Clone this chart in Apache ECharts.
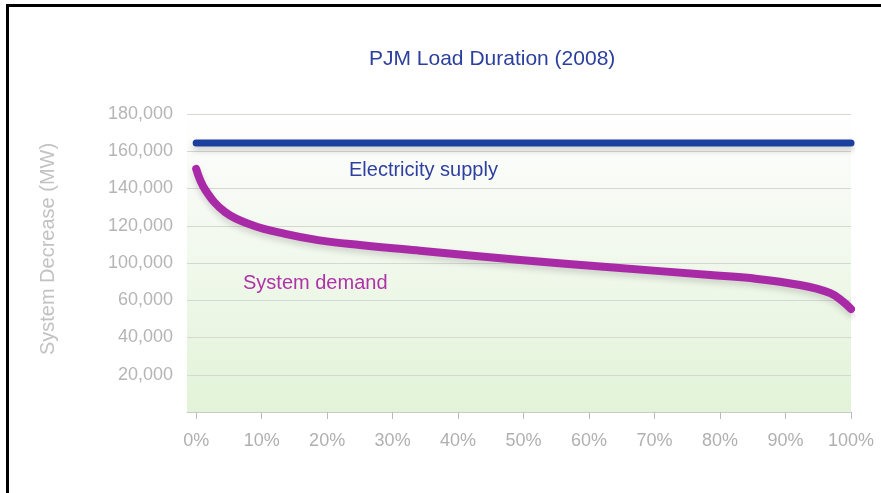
<!DOCTYPE html>
<html>
<head>
<meta charset="utf-8">
<title>PJM Load Duration (2008)</title>
<script src="https://cdn.jsdelivr.net/npm/echarts@6/dist/echarts.min.js"></script>
<style>
  html, body { margin: 0; padding: 0; background: #fff; }
  #chart { width: 881px; height: 493px; }
</style>
</head>
<body>
<div id="chart"></div>
<script>
// x ticks (% of hours), y tick labels as printed on the original (note: no 80,000)
const xTicks = [0, 10, 20, 30, 40, 50, 60, 70, 80, 90, 100]
const yTickLabels = ['', '20,000', '40,000', '60,000', '100,000', '120,000', '140,000', '160,000', '180,000']

// electricity supply (flat line), in axis units
const supplyPct = [0, 100]
const supplyMW = [144400, 144400]

// system demand
const demandPct = [0, 1.4, 4.4, 8.5, 13.6, 18.6, 25, 34.2, 49.5, 63.2, 78.5, 84.6, 92.2, 96.8, 98.8, 100]
const demandMW = [130500, 119200, 107400, 100400, 95600, 92300, 89700, 86600, 81600, 77700, 73600, 71900, 68200, 63900, 59200, 55300]

const chart = echarts.init(document.getElementById('chart'))

const font = 'Arial, "Liberation Sans", sans-serif'

chart.setOption({
  animation: false,
  title: {
    text: 'PJM Load Duration (2008)',
    left: 364,
    top: 44,
    textStyle: { color: '#2b3f9c', fontSize: 21, fontWeight: 'normal', fontFamily: font }
  },
  grid: {
    left: 187,
    right: 30,
    top: 114,
    bottom: 81,
    show: true,
    borderWidth: 0,
    backgroundColor: new echarts.graphic.LinearGradient(0, 0, 0, 1, [
      { offset: 0, color: '#ffffff' },
      { offset: 0.12, color: '#fbfcfa' },
      { offset: 1, color: '#e2f3d8' }
    ])
  },
  xAxis: {
    type: 'value',
    min: -1.4,
    max: 100,
    axisLine: { lineStyle: { color: '#c9cdc5' } },
    axisTick: { show: true, customValues: xTicks, length: 7, lineStyle: { color: '#bbbbbb' } },
    axisLabel: {
      customValues: xTicks,
      margin: 20,
      color: '#b0b0b0',
      fontSize: 18,
      fontFamily: font,
      formatter: v => v + '%'
    },
    splitLine: { show: false }
  },
  yAxis: {
    type: 'value',
    min: 0,
    max: 160000,
    interval: 20000,
    name: 'System Decrease (MW)',
    nameLocation: 'middle',
    nameGap: 129,
    nameTextStyle: { color: '#c2c2c2', fontSize: 20, fontFamily: font, padding: [0, 0, 0, 28] },
    axisLine: { show: false },
    axisTick: { show: false },
    axisLabel: {
      margin: 14,
      color: '#b5b5b5',
      fontSize: 18,
      fontFamily: font,
      formatter: v => yTickLabels[Math.round(v / 20000)]
    },
    splitLine: { lineStyle: { color: '#d5d8d2', width: 1 } }
  },
  series: [
    {
      name: 'Electricity supply',
      type: 'line',
      symbol: 'none',
      data: supplyPct.map((p, i) => [p, supplyMW[i]]),
      lineStyle: {
        color: '#1b3f9f',
        width: 7,
        cap: 'round',
        shadowColor: 'rgba(0,0,0,0.18)',
        shadowBlur: 6,
        shadowOffsetY: 4
      },
      z: 3
    },
    {
      name: 'System demand',
      type: 'line',
      symbol: 'none',
      smooth: 0.4,
      data: demandPct.map((p, i) => [p, demandMW[i]]),
      lineStyle: {
        color: '#a92aa6',
        width: 8,
        cap: 'round',
        join: 'round',
        shadowColor: 'rgba(0,0,0,0.15)',
        shadowBlur: 6,
        shadowOffsetY: 4
      },
      z: 4
    }
  ],
  graphic: [
    {
      type: 'polyline',
      shape: { points: [[7.5, 493], [7.5, 5.5], [881, 5.5]] },
      style: { stroke: '#000', lineWidth: 3, fill: null }
    },
    {
      type: 'text',
      left: 349,
      top: 160,
      style: { text: 'Electricity supply', fill: '#2e3fa0', font: '20px ' + font }
    },
    {
      type: 'text',
      left: 243,
      top: 273,
      style: { text: 'System demand', fill: '#b032a8', font: '20px ' + font }
    }
  ]
})
</script>
</body>
</html>
